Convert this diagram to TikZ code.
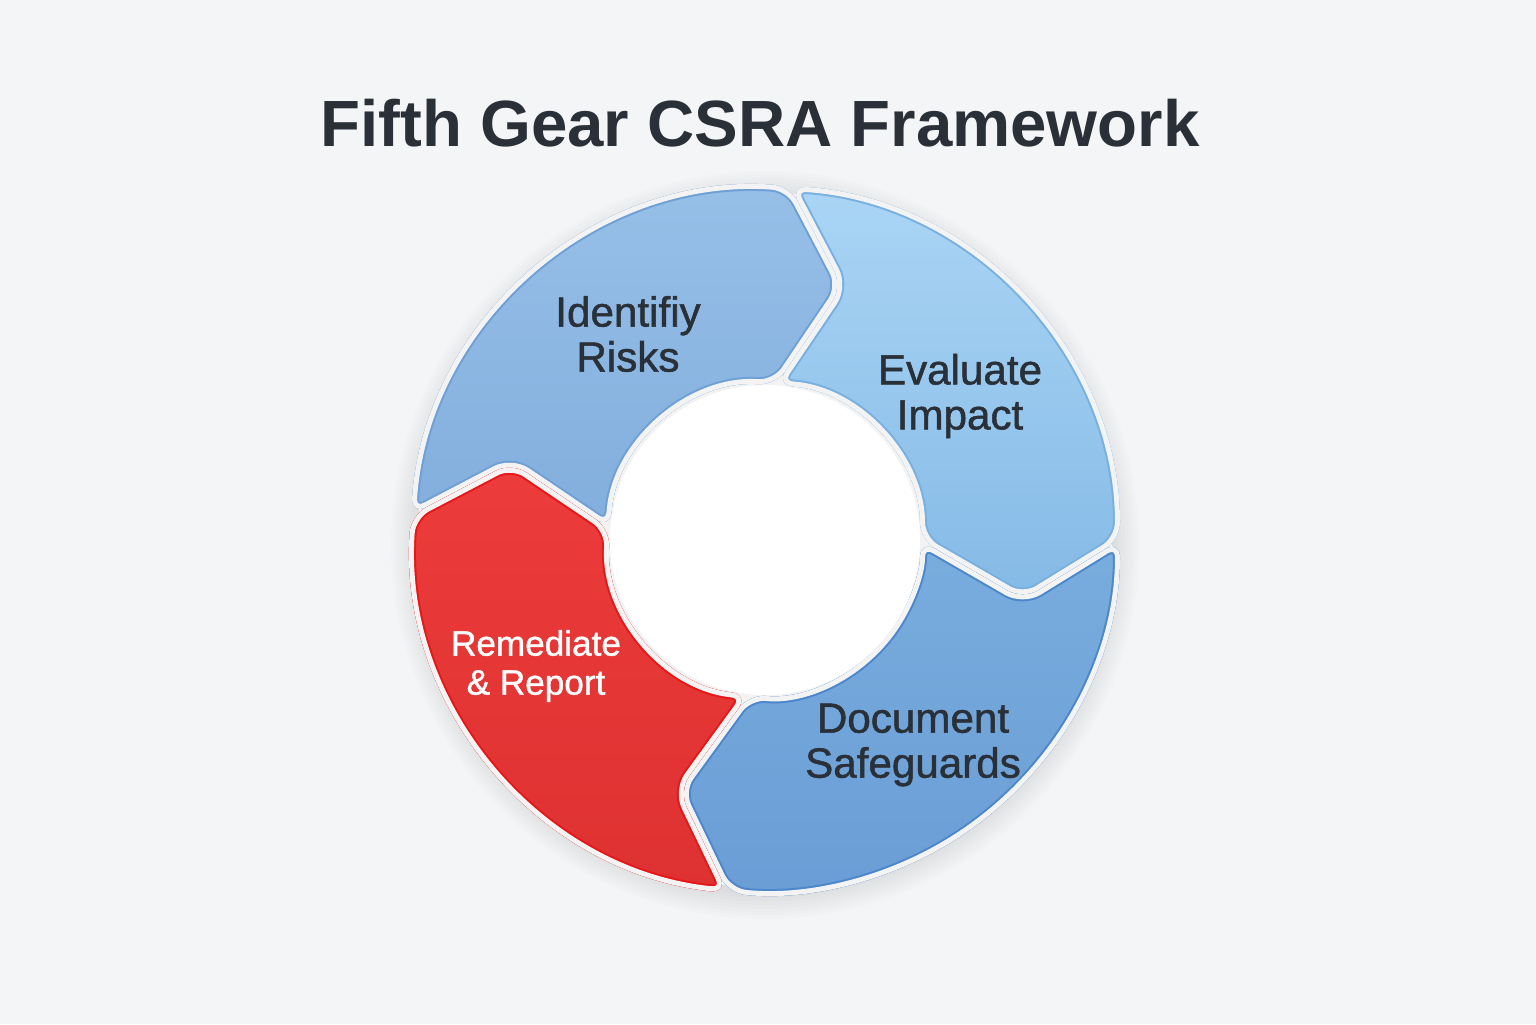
\documentclass[tikz,border=0pt]{standalone}
\usepackage{fontspec}
\setmainfont{Liberation Sans}
\newfontfamily\labelfont{Liberation Sans}[FakeBold=1.2]

\definecolor{bgGrey}{HTML}{F4F5F6}
\definecolor{gapGrey}{HTML}{F3F3F4}
\definecolor{inkDark}{HTML}{2A3038}
\definecolor{idTop}{HTML}{97C0E8}
\definecolor{idBot}{HTML}{82AEDD}
\definecolor{idLine}{HTML}{6E9FD6}
\definecolor{evTop}{HTML}{AAD5F5}
\definecolor{evBot}{HTML}{85BAE6}
\definecolor{evLine}{HTML}{78B0E0}
\definecolor{docTop}{HTML}{79ADDE}
\definecolor{docBot}{HTML}{6A9DD5}
\definecolor{docLine}{HTML}{4C86CB}
\definecolor{remTop}{HTML}{EC3C3B}
\definecolor{remBot}{HTML}{DE3131}
\definecolor{remLine}{HTML}{E81616}

% ring radii: outer, inner, tip
\newcommand{\ringR}{3.55}
\newcommand{\ringr}{1.55}
\newcommand{\ringm}{2.65}
\newcommand{\segpath}[2]{[rounded corners=5pt] (#1:\ringR) arc[start angle=#1, end angle=#2, radius=\ringR] -- ({#2-13}:\ringm) -- (#2:\ringr) arc[start angle=#2, end angle=#1, radius=\ringr] -- ({#1-13}:\ringm) -- cycle}
% start, end, top colour, bottom colour, edge colour
\newcommand{\ringseg}[5]{%
  \begin{scope}
    \clip \segpath{#1}{#2};
    \shade[top color=#3, bottom color=#4] \segpath{#1}{#2};
    \draw[#5, line width=4pt] \segpath{#1}{#2};
    \draw[gapGrey, line width=2.85pt] \segpath{#1}{#2};
  \end{scope}}

\begin{document}
\begin{tikzpicture}[
    steplabel/.style={text=inkDark, align=center, font=\labelfont\fontsize{12}{12.8}\selectfont},
  ]
    \fill[bgGrey] (0,0) rectangle (15.36,10.24);
    \useasboundingbox (0,0) rectangle (15.36,10.24);
    %Title
    \node (title) [anchor=base, text=inkDark, font=\fontsize{18.6}{22}\selectfont\bfseries] at (7.60,8.77) {Fifth Gear CSRA Framework};

    \begin{scope}[shift={(7.65,4.84)}]
      %Shadow
      \foreach \s in {1,...,8}
        \fill[black, opacity=0.011] (0,-0.05) circle ({3.46+0.035*\s});
      %Ring
      \fill[gapGrey] (0,0) circle (3.47);
      \ringseg{176}{86}{idTop}{idBot}{idLine}
      \ringseg{86}{0}{evTop}{evBot}{evLine}
      \ringseg{0}{-96}{docTop}{docBot}{docLine}
      \ringseg{264}{176}{remTop}{remBot}{remLine}
      \fill[white] (0,0) circle (1.55);
    \end{scope}

    %Steps
    \node (identify) [steplabel] at (6.28,6.90) {Identifiy\\Risks};
    \node (evaluate) [steplabel] at (9.60,6.28) {Evaluate\\Impact};
    \node (document) [steplabel] at (9.13,2.79) {Document\\Safeguards};
    \node (remediate) [steplabel, text=white, font=\labelfont\fontsize{10}{11.1}\selectfont] at (5.36,3.58) {Remediate\\\& Report};
\end{tikzpicture}
\end{document}
